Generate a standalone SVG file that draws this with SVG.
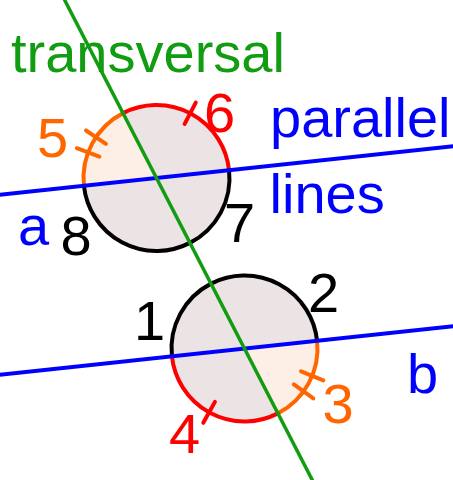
<svg xmlns="http://www.w3.org/2000/svg" width="453" height="480" viewBox="0 0 453 480">
<style>
text{font-family:"Liberation Sans",Arial,sans-serif;font-size:56px}
.g{fill:#ece4e4;stroke:none}
.p{fill:#fdeee6;stroke:none}
.arc{fill:none;stroke-width:4;stroke-linecap:round}
.k{stroke:#000}
.r{stroke:#ff0000}
.o{stroke:#ff6600}
.tick{fill:none;stroke-width:4;stroke-linecap:round}
.blue{stroke:#0000ff;stroke-width:4;fill:none}
.green{stroke:#129c12;stroke-width:3.5;fill:none}
.tb{fill:#0000ff}.tg{fill:#129c12}.tk{fill:#000}.tr{fill:#ff0000}.to{fill:#ff6600}
</style>
<rect width="453" height="480" fill="#fff"/>
<g id="angles-a">
<circle class="g" cx="156.5" cy="178" r="73"/>
<path class="p" d="M156.5 178 L123.07 113.1 A73 73 0 0 0 83.92 185.77 Z"/>
<path class="arc o" d="M123.07 113.1 A73 73 0 0 0 83.92 185.77"/>
<path class="arc r" d="M123.07 113.1 A73 73 0 0 1 229.08 170.23"/>
<path class="arc k" d="M229.08 170.23 A73 73 0 0 1 189.93 242.9 A73 73 0 0 1 83.92 185.77"/>
<path class="tick o" d="M99.35 156.64 L76.89 148.23 M105.93 143.89 L86.03 130.47"/>
<path class="tick r" d="M184.67 123.9 L195.74 102.6"/>
</g>
<g id="angles-b">
<circle class="g" cx="244.5" cy="348.5" r="73"/>
<path class="p" d="M244.5 348.5 L317.08 340.73 A73 73 0 0 1 277.93 413.4 Z"/>
<path class="arc k" d="M171.92 356.27 A73 73 0 0 1 211.07 283.6 A73 73 0 0 1 317.08 340.73"/>
<path class="arc o" d="M317.08 340.73 A73 73 0 0 1 277.93 413.4"/>
<path class="arc r" d="M277.93 413.4 A73 73 0 0 1 171.92 356.27"/>
<path class="tick o" d="M301.06 371.36 L323.3 380.35 M293.85 384.35 L313.27 398.47"/>
<path class="tick r" d="M214.93 401.86 L203.3 422.84"/>
</g>
<g id="connectors">
<line class="blue" x1="-2" y1="194.9" x2="455" y2="146.1"/>
<line class="blue" x1="-2" y1="374.9" x2="455" y2="326"/>
<line class="green" x1="63.6" y1="-2" x2="313.3" y2="482"/>
</g>
<g id="labels">
<text class="tg" x="11" y="72">transversal</text>
<text class="tb" x="270" y="137">parallel</text>
<text class="tb" x="269.5" y="213">lines</text>
<text class="tb" x="18" y="245">a</text>
<text class="tb" x="407" y="393">b</text>
<text class="to" x="37" y="157">5</text>
<text class="tr" x="204" y="132">6</text>
<text class="tk" x="224" y="242">7</text>
<text class="tk" x="60.5" y="255">8</text>
<text class="tk" x="134" y="340">1</text>
<text class="tk" x="308" y="312">2</text>
<text class="to" x="322.5" y="423">3</text>
<text class="tr" x="169" y="453">4</text>
</g>
</svg>
